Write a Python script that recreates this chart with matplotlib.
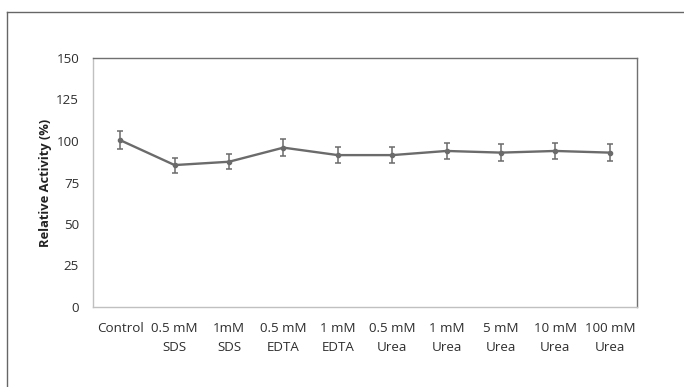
import matplotlib
matplotlib.use("Agg")
import matplotlib.pyplot as plt
from matplotlib.lines import Line2D

# data
categories = ["Control", "0.5 mM\nSDS", "1mM\nSDS", "0.5 mM\nEDTA", "1 mM\nEDTA",
              "0.5 mM\nUrea", "1 mM\nUrea", "5 mM\nUrea", "10 mM\nUrea", "100 mM\nUrea"]
activity = [100.5, 85.5, 87.5, 96, 91.5, 91.5, 94, 93, 94, 93]
errors = [5.3, 4.5, 4.5, 5, 4.8, 4.8, 5, 5, 5, 5]
yticks = [0, 25, 50, 75, 100, 125, 150]

plt.rcParams['font.family'] = ['Open Sans', 'DejaVu Sans']

fig = plt.figure(figsize=(6.84, 3.87), dpi=100)
ax = fig.add_axes([93 / 684, 1 - 307 / 387, 544 / 684, 249 / 387])

x = list(range(len(categories)))
ax.errorbar(x, activity, yerr=errors, color='#6b6b6b', lw=1.7,
            marker='o', ms=3, capsize=2.5, elinewidth=1.1, capthick=1.1)

ax.set_xlim(-0.5, len(categories) - 0.5)
ax.set_ylim(0, 150)
ax.set_yticks(yticks)
ax.set_xticks(x)
ax.set_xticklabels(categories, fontsize=9.6, color='#2e2e2e', linespacing=1.55)
ax.tick_params(axis='both', length=0, labelsize=9.6, labelcolor='#2e2e2e')
ax.tick_params(axis='y', pad=10)
ax.tick_params(axis='x', pad=11)
ax.set_ylabel('Relative Activity (%)', fontsize=9.3, fontweight='bold',
              color='#222222', labelpad=3)

for side in ['top', 'right']:
    ax.spines[side].set_color('#707070')
    ax.spines[side].set_linewidth(1.0)
for side in ['left', 'bottom']:
    ax.spines[side].set_color('#c0c0c0')
    ax.spines[side].set_linewidth(1.0)

# outer chart frame (cropped at right and bottom)
fig.add_artist(Line2D([7 / 684, 7 / 684], [0, 1 - 12 / 387], color='#666666', lw=1.0))
fig.add_artist(Line2D([7 / 684, 1], [1 - 12 / 387, 1 - 12 / 387], color='#666666', lw=1.0))

fig.savefig('out.png', dpi=100, facecolor='white')
